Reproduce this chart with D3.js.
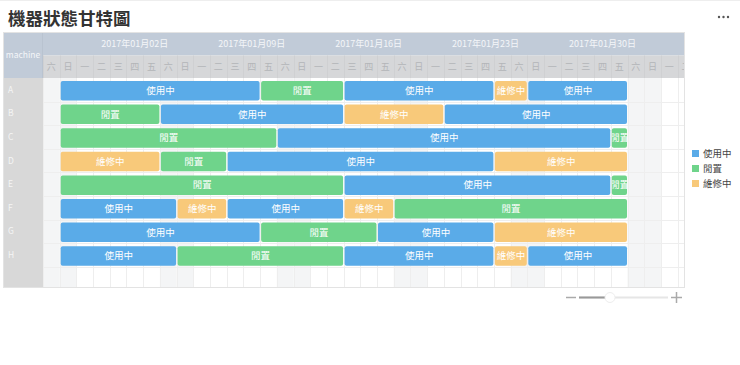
<!DOCTYPE html>
<html><head><meta charset="utf-8">
<script src="https://cdn.jsdelivr.net/npm/d3@7"></script>
<style>
html,body{margin:0;padding:0;background:#fff;}
svg{display:block;font-family:"Noto Sans CJK TC","Noto Sans",sans-serif;}
</style></head>
<body><svg id="c" width="740" height="365"></svg>
<script>
// ---- data ----
const title = "機器狀態甘特圖";
const machines = ["A","B","C","D","E","F","G","H"];
const statuses = ["使用中","閒置","維修中"];
const statusColors = ["#5aabe8","#6fd48b","#f8c97a"];
const weekLabels = ["2017年01月02日","2017年01月09日","2017年01月16日","2017年01月23日","2017年01月30日"];
const weekStarts = ["2017-01-02","2017-01-09","2017-01-16","2017-01-23","2017-01-30"];
const weekdayNames = ["日","一","二","三","四","五","六"];
const viewStart = "2016-12-31";
const viewEnd = "2017-02-08";
const tasks = [
  ["A","使用中","2017-01-01","2017-01-13"],["A","閒置","2017-01-13","2017-01-18"],["A","使用中","2017-01-18","2017-01-27"],["A","維修中","2017-01-27","2017-01-29"],["A","使用中","2017-01-29","2017-02-04"],
  ["B","閒置","2017-01-01","2017-01-07"],["B","使用中","2017-01-07","2017-01-18"],["B","維修中","2017-01-18","2017-01-24"],["B","使用中","2017-01-24","2017-02-04"],
  ["C","閒置","2017-01-01","2017-01-14"],["C","使用中","2017-01-14","2017-02-03"],["C","閒置","2017-02-03","2017-02-04"],
  ["D","維修中","2017-01-01","2017-01-07"],["D","閒置","2017-01-07","2017-01-11"],["D","使用中","2017-01-11","2017-01-27"],["D","維修中","2017-01-27","2017-02-04"],
  ["E","閒置","2017-01-01","2017-01-18"],["E","使用中","2017-01-18","2017-02-03"],["E","閒置","2017-02-03","2017-02-04"],
  ["F","使用中","2017-01-01","2017-01-08"],["F","維修中","2017-01-08","2017-01-11"],["F","使用中","2017-01-11","2017-01-18"],["F","維修中","2017-01-18","2017-01-21"],["F","閒置","2017-01-21","2017-02-04"],
  ["G","使用中","2017-01-01","2017-01-13"],["G","閒置","2017-01-13","2017-01-20"],["G","使用中","2017-01-20","2017-01-27"],["G","維修中","2017-01-27","2017-02-04"],
  ["H","使用中","2017-01-01","2017-01-08"],["H","閒置","2017-01-08","2017-01-18"],["H","使用中","2017-01-18","2017-01-27"],["H","維修中","2017-01-27","2017-01-29"],["H","使用中","2017-01-29","2017-02-04"]
];

// ---- layout ----
const parse = d3.utcParse("%Y-%m-%d");
const svg = d3.select("#c");
const F = {x0:3, x1:685, y0:32, yMid:55.5, yBody:78, y1:288, labelW:40};
const chartLeft = F.x0 + F.labelW;
const dayW = 16.7;
const DAY = 86400000;
const t0 = parse(viewStart), t1 = parse(viewEnd);
const nDays = d3.utcDay.count(t0, t1);
const x = d3.scaleUtc().domain([t0, t1]).range([chartLeft, chartLeft + nDays*dayW]);
const rowH = 23.6;
const y = d3.scaleBand().domain(machines).range([F.yBody, F.yBody + rowH*machines.length]).paddingInner(0).paddingOuter(0);
const color = d3.scaleOrdinal().domain(statuses).range(statusColors);

// title
svg.append("line").attr("x1",0).attr("x2",740).attr("y1",0.5).attr("y2",0.5).attr("stroke","#eee");
svg.append("text").attr("x",8).attr("y",24.5).attr("font-size",17.5).attr("font-weight","bold").attr("fill","#333").text(title);
[719,723.5,728].forEach(cx=>svg.append("circle").attr("cx",cx).attr("cy",17).attr("r",1.2).attr("fill","#555"));

const defs = svg.append("defs");
defs.append("clipPath").attr("id","chartClip").append("rect")
  .attr("x",chartLeft).attr("y",F.y0).attr("width",F.x1-chartLeft).attr("height",F.y1-F.y0);

const days = d3.utcDay.range(t0, t1);
const g = svg.append("g").attr("clip-path","url(#chartClip)");

// body background + weekend shading
g.append("rect").attr("x",chartLeft).attr("y",F.yBody).attr("width",F.x1-chartLeft).attr("height",F.y1-F.yBody).attr("fill","#fff");
g.selectAll("rect.we").data(days.filter(d=>d.getUTCDay()===0||d.getUTCDay()===6)).join("rect")
  .attr("class","we").attr("x",d=>x(d)).attr("y",F.yBody).attr("width",dayW).attr("height",F.y1-F.yBody).attr("fill","#f4f5f6");
// vertical day lines
g.selectAll("line.vd").data(days).join("line").attr("class","vd")
  .attr("x1",d=>Math.round(x(d))+0.5).attr("x2",d=>Math.round(x(d))+0.5)
  .attr("y1",F.yBody).attr("y2",F.y1).attr("stroke","#eeeeee");
// horizontal row lines
const rowLines = machines.map(m=>y(m)+y.bandwidth());
g.selectAll("line.hr").data(rowLines).join("line").attr("class","hr")
  .attr("x1",chartLeft).attr("x2",F.x1).attr("y1",d=>Math.round(d)+0.5).attr("y2",d=>Math.round(d)+0.5).attr("stroke","#eeeeee");

// header rows
g.append("rect").attr("x",chartLeft).attr("y",F.y0).attr("width",F.x1-chartLeft).attr("height",F.yMid-F.y0).attr("fill","#c1cbd8");
g.append("rect").attr("x",chartLeft).attr("y",F.yMid).attr("width",F.x1-chartLeft).attr("height",F.yBody-F.yMid).attr("fill","#d6d7d9");
g.selectAll("line.hd").data(days).join("line").attr("class","hd")
  .attr("x1",d=>Math.round(x(d))+0.5).attr("x2",d=>Math.round(x(d))+0.5)
  .attr("y1",F.yMid).attr("y2",F.yBody).attr("stroke","#cfd0d2");
g.selectAll("text.wk").data(weekStarts).join("text").attr("class","wk")
  .attr("x",d=>x(new Date(parse(d).getTime()+3.5*DAY))).attr("y",47).attr("text-anchor","middle")
  .attr("font-size",9).attr("fill","#f4f6f9").text((d,i)=>weekLabels[i]);
g.selectAll("text.wd").data(days).join("text").attr("class","wd")
  .attr("x",d=>x(d)+dayW/2).attr("y",70).attr("text-anchor","middle")
  .attr("font-size",9).attr("fill","#b3b5b8").text(d=>weekdayNames[d.getUTCDay()]);

// left column
svg.append("rect").attr("x",F.x0).attr("y",F.y0).attr("width",F.labelW).attr("height",F.yBody-F.y0).attr("fill","#c1cbd8");
svg.append("rect").attr("x",F.x0).attr("y",F.yBody).attr("width",F.labelW).attr("height",F.y1-F.yBody).attr("fill","#d8d8d8");
svg.append("line").attr("x1",chartLeft-0.5).attr("x2",chartLeft-0.5).attr("y1",F.y0).attr("y2",F.yBody).attr("stroke","#b9c3d0");
svg.append("text").attr("x",F.x0+F.labelW/2).attr("y",58).attr("text-anchor","middle").attr("font-size",8.5).attr("fill","#f4f6f9").text("machine");
svg.selectAll("text.ml").data(machines).join("text").attr("class","ml")
  .attr("x",F.x0+5).attr("y",d=>y(d)+y.bandwidth()/2+3).attr("font-size",8.5).attr("fill","#f5f5f5").text(d=>d);

// bars
const tk = tasks.map((t,i)=>({id:i, machine:t[0], status:t[1], start:parse(t[2]), end:parse(t[3])}));
const bh = 19.5;
tk.forEach(d=>{
  defs.append("clipPath").attr("id","tc"+d.id).append("rect")
    .attr("x",x(d.start)+1).attr("y",y(d.machine)+3).attr("width",x(d.end)-x(d.start)-1.5).attr("height",bh);
});
const bars = g.append("g").selectAll("g").data(tk).join("g");
bars.append("rect")
  .attr("x",d=>x(d.start)+1).attr("y",d=>y(d.machine)+3)
  .attr("width",d=>x(d.end)-x(d.start)-1.5).attr("height",bh)
  .attr("rx",2).attr("fill",d=>color(d.status));
bars.append("text").attr("clip-path",d=>"url(#tc"+d.id+")")
  .attr("x",d=>(x(d.start)+x(d.end))/2+0.5).attr("y",d=>y(d.machine)+3+bh/2+3.3)
  .attr("text-anchor","middle").attr("font-size",9.5).attr("fill","#fff").text(d=>d.status);

// frame border
svg.append("rect").attr("x",F.x0+0.5).attr("y",F.y0+0.5).attr("width",F.x1-F.x0-1).attr("height",F.y1-F.y0-1)
  .attr("fill","none").attr("stroke","#e3e3e3");

// legend
const lg = svg.append("g").selectAll("g").data(statuses).join("g")
  .attr("transform",(d,i)=>`translate(692,${150+i*15})`);
lg.append("rect").attr("width",7).attr("height",7).attr("fill",d=>color(d));
lg.append("text").attr("x",11).attr("y",7).attr("font-size",9.5).attr("fill","#444").text(d=>d);

// zoom slider
const sl = svg.append("g");
sl.append("line").attr("x1",566).attr("x2",576).attr("y1",297.5).attr("y2",297.5).attr("stroke","#aaa").attr("stroke-width",1.5);
sl.append("line").attr("x1",579).attr("x2",668).attr("y1",297.5).attr("y2",297.5).attr("stroke","#e6e6e6").attr("stroke-width",2);
sl.append("line").attr("x1",579).attr("x2",607).attr("y1",297.5).attr("y2",297.5).attr("stroke","#999").attr("stroke-width",2);
sl.append("circle").attr("cx",610).attr("cy",297.5).attr("r",5).attr("fill","#fff").attr("stroke","#eee");
sl.append("line").attr("x1",671).attr("x2",682).attr("y1",297.5).attr("y2",297.5).attr("stroke","#aaa").attr("stroke-width",1.5);
sl.append("line").attr("x1",676.5).attr("x2",676.5).attr("y1",292).attr("y2",303).attr("stroke","#aaa").attr("stroke-width",1.5);
</script></body></html>
